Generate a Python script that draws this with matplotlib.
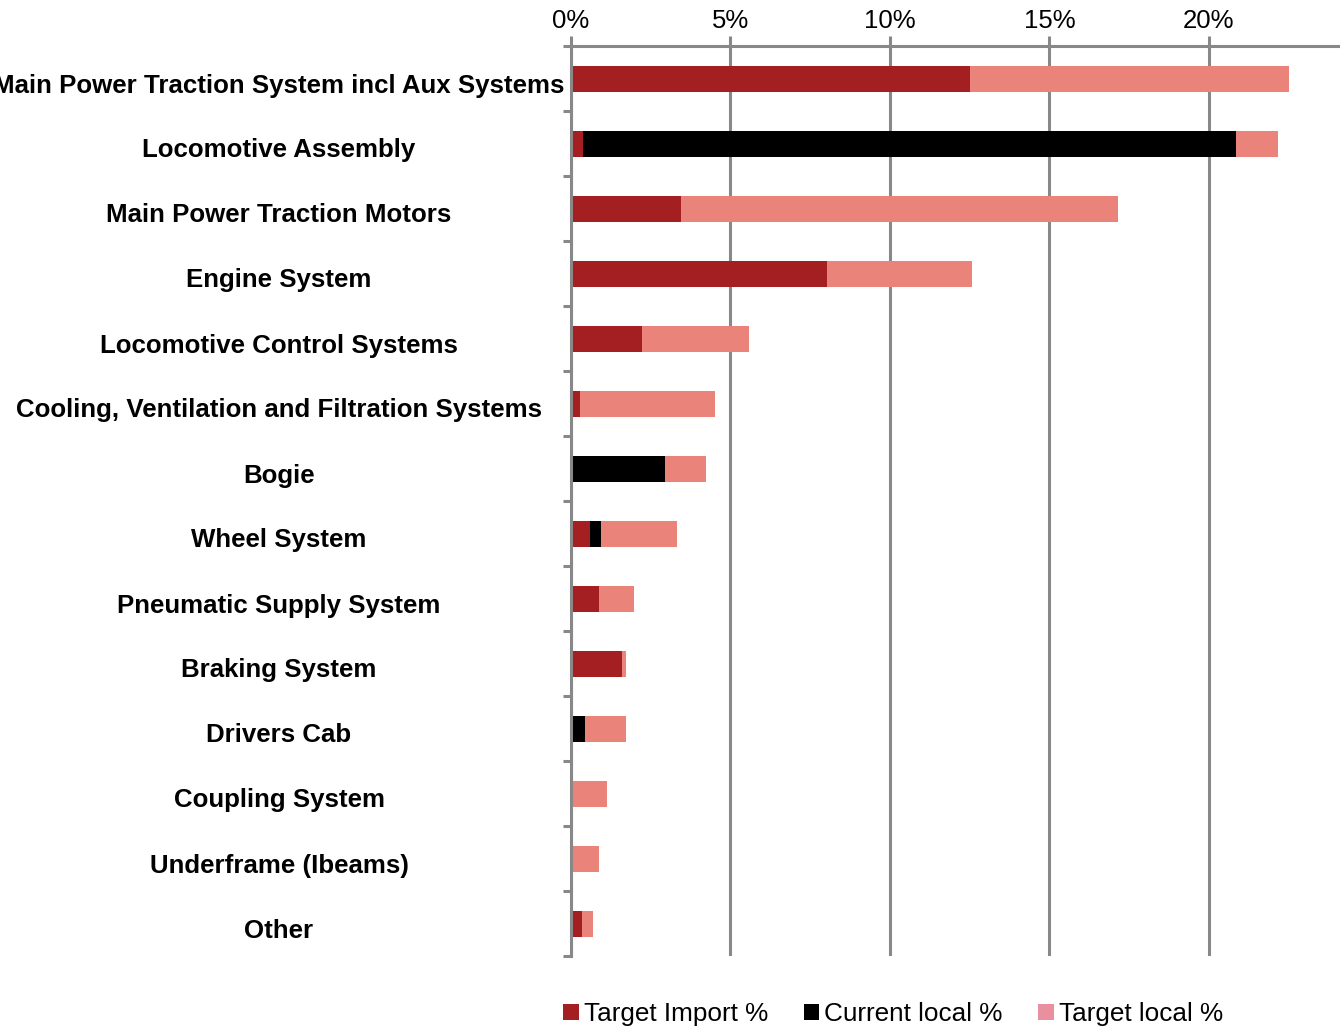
import matplotlib
matplotlib.use("Agg")
import matplotlib.pyplot as plt
from matplotlib.patches import Patch
from matplotlib.ticker import FuncFormatter, MultipleLocator
from matplotlib.transforms import ScaledTranslation
import numpy as np

plt.rcParams['font.family'] = ['Liberation Sans', 'DejaVu Sans']

categories = [
    "Main Power Traction System incl Aux Systems",
    "Locomotive Assembly",
    "Main Power Traction Motors",
    "Engine System",
    "Locomotive Control Systems",
    "Cooling, Ventilation and Filtration Systems",
    "Bogie",
    "Wheel System",
    "Pneumatic Supply System",
    "Braking System",
    "Drivers Cab",
    "Coupling System",
    "Underframe (Ibeams)",
    "Other",
]
target_import = [12.50, 0.39, 3.45, 8.03, 2.23, 0.28, 0.00, 0.59, 0.88, 1.61, 0.00, 0.00, 0.00, 0.33]
current_local = [0.00, 20.45, 0.00, 0.00, 0.00, 0.00, 2.95, 0.35, 0.00, 0.00, 0.45, 0.06, 0.00, 0.00]
target_local = [10.00, 1.33, 13.70, 4.54, 3.35, 4.24, 1.28, 2.39, 1.09, 0.10, 1.26, 1.06, 0.88, 0.37]
series_names = ["Target Import %", "Current local %", "Target local %"]

c_import = "#A31F22"
c_current = "#000000"
c_local = "#EA8379"
c_local_legend = "#E8909E"
grey = "#888888"

fig = plt.figure(figsize=(13.43, 10.26), dpi=100)
ax = fig.add_axes([571 / 1343, 1 - 956 / 1026, (1338 - 571) / 1343, (956 - 46) / 1026])

y = np.arange(len(categories))
h = 0.4
imp = np.array(target_import)
cur = np.array(current_local)
loc = np.array(target_local)
ax.barh(y, imp, height=h, color=c_import, zorder=3)
ax.barh(y, cur, height=h, left=imp, color=c_current, zorder=3)
ax.barh(y, loc, height=h, left=imp + cur, color=c_local, zorder=3)

ax.set_xlim(0, 24.05)
ax.set_ylim(len(categories) - 0.5, -0.5)

# x axis on top with percent labels and vertical grid
ax.xaxis.set_major_locator(MultipleLocator(5))
ax.xaxis.set_major_formatter(FuncFormatter(lambda v, p: f"{v:.0f}%"))
ax.xaxis.tick_top()
ax.tick_params(axis="x", which="major", direction="out", length=7, width=2.2,
               color=grey, labelsize=18.5, pad=2)
ax.grid(axis="x", color=grey, linewidth=2.2, zorder=1)

# category labels centred in the left margin, boundary ticks outward
ax.set_yticks(y)
ax.set_yticklabels(categories, fontsize=18.6, fontweight="bold")
ax.tick_params(axis="y", which="major", length=0, pad=(571 - 279) * 0.72)
ax.set_yticks(np.arange(-0.5, len(categories), 1.0), minor=True)
ax.tick_params(axis="y", which="minor", direction="out", length=6, width=2.2, color=grey)

shift = ScaledTranslation(0, -4.5 / 100, fig.dpi_scale_trans)
for lbl in ax.get_yticklabels():
    lbl.set_ha("center")
    lbl.set_transform(lbl.get_transform() + shift)

for side in ["right", "bottom"]:
    ax.spines[side].set_visible(False)
for side in ["top", "left"]:
    ax.spines[side].set_color(grey)
    ax.spines[side].set_linewidth(2.2)
    ax.spines[side].set_zorder(4)

handles = [Patch(facecolor=c_import), Patch(facecolor=c_current), Patch(facecolor=c_local_legend)]
fig.legend(handles, series_names, loc="lower center", bbox_to_anchor=(0.665, -0.023),
           ncol=3, frameon=False, fontsize=18.8, handlelength=0.6, handleheight=0.58,
           handletextpad=0.2, columnspacing=1.35)

fig.savefig("out.png", dpi=100)
